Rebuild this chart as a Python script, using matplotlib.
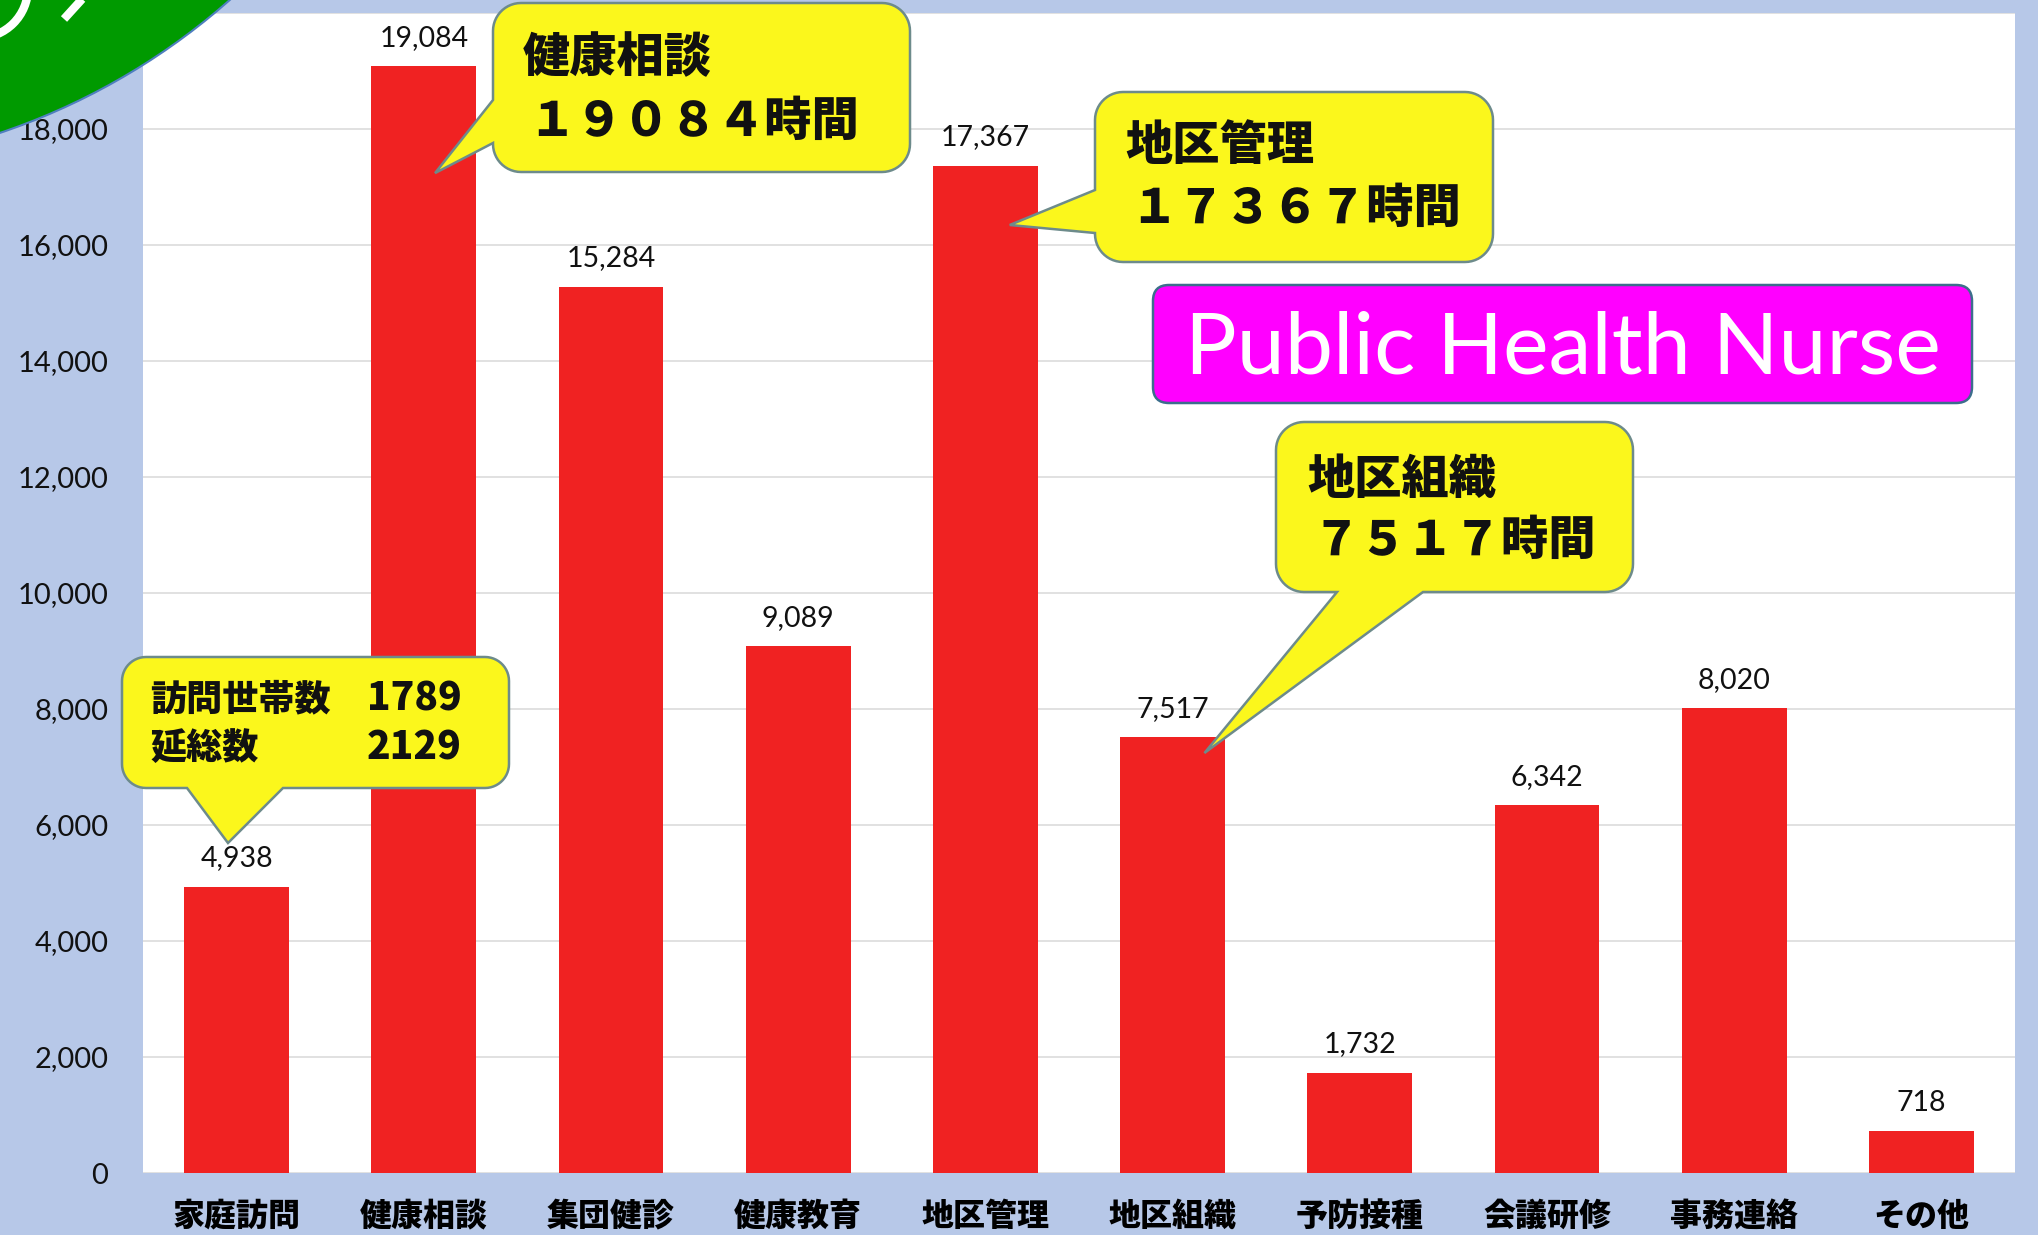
import numpy as np
import matplotlib
matplotlib.use("Agg")
import matplotlib.pyplot as plt
from matplotlib.patches import Polygon, FancyBboxPatch, Circle

plt.rcParams['font.family'] = ['Lato', 'Noto Sans CJK JP', 'DejaVu Sans']
JP = ['Noto Sans CJK JP', 'DejaVu Sans']

# data
categories = ['家庭訪問', '健康相談', '集団健診', '健康教育', '地区管理',
              '地区組織', '予防接種', '会議研修', '事務連絡', 'その他']
hours = [4938, 19084, 15284, 9089, 17367, 7517, 1732, 6342, 8020, 718]
yticks = list(range(0, 20001, 2000))

W, H = 2038, 1235
fig = plt.figure(figsize=(W / 100, H / 100), dpi=100)
fig.patch.set_facecolor('#b7c8e8')

ax = fig.add_axes([143 / W, 1 - 1173 / H, (2015 - 143) / W, (1173 - 13) / H])
ax.set_facecolor('white')
x = np.arange(len(categories))
ax.bar(x, hours, width=0.56, color='#f02222', zorder=2)
ax.set_xlim(-0.5, len(categories) - 0.5)
ax.set_ylim(0, 20000)
ax.set_yticks(yticks)
ax.set_yticklabels([f'{v:,}' for v in yticks], fontsize=21, color='#111111')
ax.set_xticks(x)
ax.set_xticklabels(categories, fontsize=23, fontweight='black', family=JP)
ax.tick_params(length=0)
ax.tick_params(axis='y', pad=25)
ax.tick_params(axis='x', pad=19)
ax.yaxis.grid(True, color='#dcdcdc', lw=1.2)
ax.set_axisbelow(True)
for s in ax.spines.values():
    s.set_visible(False)

for xi, v in zip(x, hours):
    ax.annotate(f'{v:,}', (xi, v), xytext=(0, 11), textcoords='offset points',
                ha='center', va='bottom', fontsize=20.5, color='#111111')

# overlay in pixel coords (origin top-left)
ov = fig.add_axes([0, 0, 1, 1], zorder=5)
ov.set_xlim(0, W)
ov.set_ylim(H, 0)
ov.axis('off')
ov.patch.set_alpha(0)


def px(xd, yd):
    d = ax.transData.transform((xd, yd))
    return (d[0], H - d[1])


def bubble(x0, y0, x1, y1, r, side, a, b, tip):
    def arc(cx, cy, t0, t1):
        t = np.radians(np.linspace(t0, t1, 14))
        return list(zip(cx + r * np.cos(t), cy + r * np.sin(t)))
    pts = arc(x1 - r, y0 + r, -90, 0) + arc(x1 - r, y1 - r, 0, 90)
    if side == 'bottom':
        pts += [(b, y1), tip, (a, y1)]
    pts += arc(x0 + r, y1 - r, 90, 180)
    if side == 'left':
        pts += [(x0, b), tip, (x0, a)]
    pts += arc(x0 + r, y0 + r, 180, 270)
    ov.add_patch(Polygon(pts, closed=True, fc='#fbf71c', ec='#6d8b8b',
                         lw=1.8, joinstyle='miter'))


def label(xp, yp, s, size=34, ha='left'):
    ov.text(xp, yp, s, fontsize=size, fontweight='black', family=JP,
            va='center', ha=ha, color='#111111')


# green corner shape
ov.add_patch(Circle((-214, -502), 670, fc='#009a00', ec='#4f7fbf', lw=1.5))
ov.add_patch(Circle((-22, -12), 50, fc='none', ec='white', lw=6))
ov.plot([64, 84], [19, -3], color='white', lw=6, solid_capstyle='butt')

# callouts
bubble(493, 3, 910, 172, 28, 'left', 100, 143, px(1.06, 17240))
label(523, 58, '健康相談')
label(528, 122, '１９０８４時間')

bubble(1095, 92, 1493, 262, 28, 'left', 190, 233, px(4.13, 16345))
label(1125, 146, '地区管理')
label(1130, 209, '１７３６７時間')

bubble(1276, 422, 1633, 592, 28, 'bottom', 1337, 1423, px(5.17, 7241))
label(1307, 480, '地区組織')
label(1312, 541, '７５１７時間')

bubble(122, 657, 509, 788, 24, 'bottom', 187, 283, px(-0.046, 5690))
label(150, 699, '訪問世帯数', 26)
label(462, 699, '1789', 28, 'right')
label(150, 748, '延総数', 26)
label(462, 748, '2129', 28, 'right')

# title box
ov.add_patch(FancyBboxPatch((1153, 285), 819, 118,
                            boxstyle='round,pad=0,rounding_size=16',
                            fc='#ff00ff', ec='#3c6e8c', lw=1.8))
ov.text(1563, 350, 'Public Health Nurse', fontsize=62, color='white',
        ha='center', va='center', family=['Lato', 'DejaVu Sans'])

fig.savefig('out.png', dpi=100, facecolor=fig.get_facecolor())
